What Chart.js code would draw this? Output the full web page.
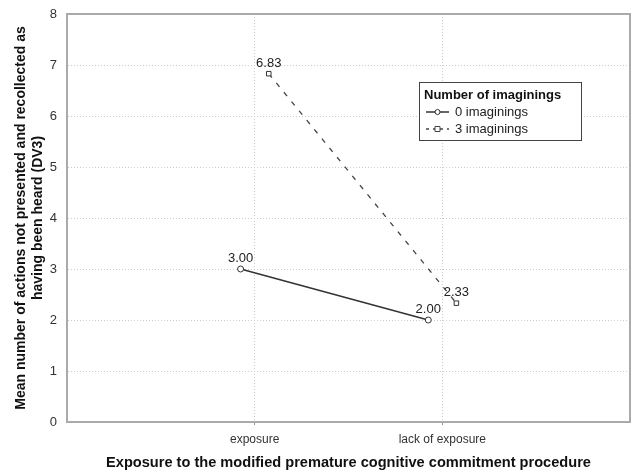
<!DOCTYPE html>
<html>
<head>
<meta charset="utf-8">
<script src="https://cdn.jsdelivr.net/npm/chart.js@4"></script>
<style>
  html, body { margin: 0; padding: 0; background: #fff; }
  #wrap { width: 635px; height: 471px; position: relative; }
</style>
</head>
<body>
<div id="wrap"><canvas id="chart"></canvas></div>
<script>
// Data
const categories = ["exposure", "lack of exposure"];
const seriesNames = ["0 imaginings", "3 imaginings"];
const zeroImaginings = [3.0, 2.0];
const threeImaginings = [6.83, 2.33];
const yTicks = [0, 1, 2, 3, 4, 5, 6, 7, 8];

const legendTitle = "Number of imaginings";
const xTitle = "Exposure to the modified premature cognitive commitment procedure";
const yTitle = ["Mean number of actions not presented and recollected as", "having been heard (DV3)"];

const FONT = "'Liberation Sans', Arial, sans-serif";
const shift = 0.075; // horizontal jitter between the two groups

function toPoints(values, dx) {
  return values.map((v, i) => ({ x: i + 1 + dx, y: v }));
}

// gray frame around the plot area
const frame = {
  id: "frame",
  beforeDatasetsDraw(chart) {
    const a = chart.chartArea;
    const ctx = chart.ctx;
    ctx.save();
    ctx.strokeStyle = "#aaa";
    ctx.lineWidth = 2;
    ctx.strokeRect(a.left, a.top, a.right - a.left, a.bottom - a.top);
    ctx.restore();
  },
};

// value labels above each point
const valueLabels = {
  id: "valueLabels",
  afterDatasetsDraw(chart) {
    const ctx = chart.ctx;
    ctx.save();
    ctx.font = "13px " + FONT;
    ctx.fillStyle = "#222";
    ctx.textAlign = "center";
    ctx.textBaseline = "bottom";
    chart.data.datasets.forEach((ds, di) => {
      chart.getDatasetMeta(di).data.forEach((pt, i) => {
        ctx.fillText(ds.data[i].y.toFixed(2), pt.x, pt.y - 4);
      });
    });
    ctx.restore();
  },
};

// boxed legend with title
const boxLegend = {
  id: "boxLegend",
  afterDraw(chart) {
    const ctx = chart.ctx;
    const x = 419, y = 82, w = 162, h = 58;
    ctx.save();
    ctx.fillStyle = "#fff";
    ctx.fillRect(x, y, w, h);
    ctx.strokeStyle = "#444";
    ctx.lineWidth = 1;
    ctx.strokeRect(x + 0.5, y + 0.5, w, h);
    ctx.fillStyle = "#111";
    ctx.font = "bold 13px " + FONT;
    ctx.textBaseline = "middle";
    ctx.fillText(legendTitle, x + 5, y + 13);
    ctx.font = "13px " + FONT;
    chart.data.datasets.forEach((ds, i) => {
      const ly = y + 30 + i * 17;
      ctx.strokeStyle = ds.borderColor;
      ctx.lineWidth = ds.borderWidth;
      ctx.setLineDash(ds.borderDash ? [3, 4] : []);
      ctx.beginPath();
      ctx.moveTo(x + 7, ly);
      ctx.lineTo(x + 30, ly);
      ctx.stroke();
      ctx.setLineDash([]);
      ctx.lineWidth = 1;
      ctx.fillStyle = "#fff";
      ctx.beginPath();
      if (ds.pointStyle === "rect") {
        ctx.rect(x + 16, ly - 2.5, 5, 5);
      } else {
        ctx.arc(x + 18.5, ly, 2.5, 0, Math.PI * 2);
      }
      ctx.fill();
      ctx.stroke();
      ctx.fillStyle = "#222";
      ctx.fillText(ds.label, x + 36, ly);
    });
    ctx.restore();
  },
};

new Chart(document.getElementById("chart"), {
  type: "line",
  plugins: [frame, valueLabels, boxLegend],
  data: {
    datasets: [
      {
        label: seriesNames[0],
        data: toPoints(zeroImaginings, -shift),
        borderColor: "#333",
        borderWidth: 1.5,
        pointStyle: "circle",
        pointRadius: 3,
        pointBackgroundColor: "#fff",
        pointBorderColor: "#333",
        pointBorderWidth: 1,
      },
      {
        label: seriesNames[1],
        data: toPoints(threeImaginings, shift),
        borderColor: "#444",
        borderWidth: 1.3,
        borderDash: [5, 7],
        pointStyle: "rect",
        pointRadius: 3.2,
        pointBackgroundColor: "#fff",
        pointBorderColor: "#333",
        pointBorderWidth: 1,
      },
    ],
  },
  options: {
    responsive: true,
    maintainAspectRatio: false,
    animation: false,
    layout: { padding: { top: 14, right: 2, left: 0, bottom: 0 } },
    plugins: { legend: { display: false }, tooltip: { enabled: false } },
    scales: {
      x: {
        type: "linear",
        min: 0,
        max: 3,
        afterBuildTicks: (axis) => {
          axis.ticks = categories.map((c, i) => ({ value: i + 1 }));
        },
        ticks: {
          callback: (v) => categories[v - 1] || "",
          color: "#333",
          font: { family: FONT, size: 12 },
          padding: 7,
          maxRotation: 0,
        },
        grid: { color: "#ccc", tickLength: 3, tickColor: "#999" },
        border: { color: "#aaa", width: 2, dash: [1, 2] },
        title: {
          display: true,
          text: xTitle,
          color: "#111",
          font: { family: FONT, size: 14.6, weight: "bold" },
          padding: { top: 11, bottom: -1 },
        },
        afterFit: (scale) => {
          scale.height = 49;
          scale.paddingLeft = 0;
          scale.paddingRight = 0;
        },
      },
      y: {
        min: 0,
        max: 8,
        afterBuildTicks: (axis) => {
          axis.ticks = yTicks.map((v) => ({ value: v }));
        },
        ticks: {
          color: "#333",
          font: { family: FONT, size: 13 },
          padding: 10,
        },
        grid: { color: "#ccc", drawTicks: false },
        border: { color: "#aaa", width: 2, dash: [1, 2] },
        title: {
          display: true,
          text: yTitle,
          color: "#111",
          font: { family: FONT, size: 14, weight: "bold" },
          padding: { top: 13, bottom: 4 },
        },
        afterFit: (scale) => {
          scale.width = 67;
          scale.paddingTop = 0;
          scale.paddingBottom = 0;
        },
      },
    },
  },
});
</script>
</body>
</html>
